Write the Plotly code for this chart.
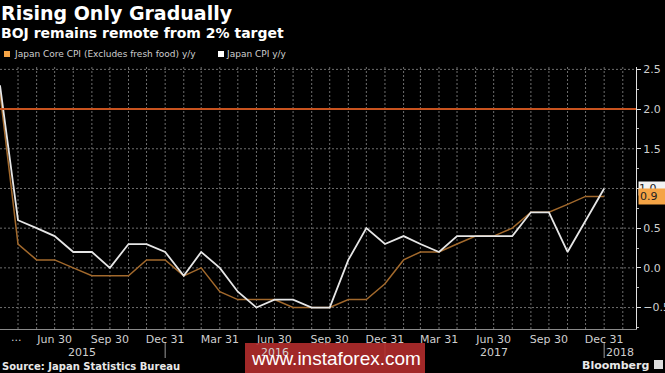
import plotly.graph_objects as go

# ---------------- data ----------------
months = [
    "2015-03-31", "2015-04-30", "2015-05-31", "2015-06-30", "2015-07-31", "2015-08-31",
    "2015-09-30", "2015-10-31", "2015-11-30", "2015-12-31",
    "2016-01-31", "2016-02-29", "2016-03-31", "2016-04-30", "2016-05-31", "2016-06-30",
    "2016-07-31", "2016-08-31", "2016-09-30", "2016-10-31", "2016-11-30", "2016-12-31",
    "2017-01-31", "2017-02-28", "2017-03-31", "2017-04-30", "2017-05-31", "2017-06-30",
    "2017-07-31", "2017-08-31", "2017-09-30", "2017-10-31", "2017-11-30", "2017-12-31",
]
core_cpi = [2.2, 0.3, 0.1, 0.1, 0.0, -0.1, -0.1, -0.1, 0.1, 0.1,
            -0.1, 0.0, -0.3, -0.4, -0.4, -0.4, -0.5, -0.5, -0.5, -0.4, -0.4, -0.2,
            0.1, 0.2, 0.2, 0.3, 0.4, 0.4, 0.5, 0.7, 0.7, 0.8, 0.9, 0.9]
cpi = [2.3, 0.6, 0.5, 0.4, 0.2, 0.2, 0.0, 0.3, 0.3, 0.2,
       -0.1, 0.2, 0.0, -0.3, -0.5, -0.4, -0.4, -0.5, -0.5, 0.1, 0.5, 0.3,
       0.4, 0.3, 0.2, 0.4, 0.4, 0.4, 0.4, 0.7, 0.7, 0.2, 0.6, 1.0]
target = 2.0

grid_months = months[1:] + ["2018-01-31"]
tick_dates = ["2015-06-30", "2015-09-30", "2015-12-31", "2016-03-31", "2016-06-30",
              "2016-09-30", "2016-12-31", "2017-03-31", "2017-06-30", "2017-09-30",
              "2017-12-31"]
tick_text = ["Jun 30", "Sep 30", "Dec 31", "Mar 31", "Jun 30", "Sep 30", "Dec 31",
             "Mar 31", "Jun 30", "Sep 30", "Dec 31"]
years = ["2015", "2016", "2017", "2018"]
year_pos = ["2015-08-14", "2016-07-01", "2017-07-01", "2018-01-27"]
year_breaks = ["2015-12-31", "2016-12-31", "2017-12-31"]
y_ticks = [-0.5, 0.0, 0.5, 1.0, 1.5, 2.0, 2.5]
x_range = ["2015-03-31", "2018-02-22"]

# ---------------- styling ----------------
W, H = 665, 373
PL, PR, PT, PB = 0, 636, 67, 329
FONT = "DejaVu Sans, Verdana, sans-serif"
WM_FONT = "Liberation Sans, Arial, sans-serif"
CORE_LINE = "#a2692c"
CORE_KEY = "#f5a445"
CPI_LINE = "#e6e6e6"
TARGET = "#c8531f"
GRID = "#6e6e6e"
GRID_DASH = "2px,2px"
TXT = "#cfcfcf"


def py(p):
    return (PB - p) / (PB - PT)


def pxp(p):
    return (p - PL) / (PR - PL)


fig = go.Figure()
fig.add_trace(go.Scatter(x=months, y=core_cpi, mode="lines",
                         line=dict(color=CORE_LINE, width=1.5), name="Japan Core CPI"))
fig.add_trace(go.Scatter(x=months, y=cpi, mode="lines",
                         line=dict(color=CPI_LINE, width=1.8), name="Japan CPI"))

shapes = []
# monthly vertical grid
for d in grid_months:
    shapes.append(dict(type="line", xref="x", x0=d, x1=d, yref="paper", y0=0, y1=1,
                       line=dict(color=GRID, width=1, dash=GRID_DASH), layer="between"))
# horizontal grid
for v in y_ticks:
    shapes.append(dict(type="line", xref="paper", x0=0, x1=1, yref="y", y0=v, y1=v,
                       line=dict(color=GRID, width=1, dash=GRID_DASH), layer="between"))
shapes.append(dict(type="line", xref="paper", x0=0, x1=1, yref="y", y0=target, y1=target,
                   line=dict(color=TARGET, width=2), layer="above"))
for d in year_breaks:
    shapes.append(dict(type="line", xref="x", x0=d, x1=d, yref="paper",
                       y0=py(343), y1=py(358), line=dict(color="#9a9a9a", width=1)))
# legend keys
shapes.append(dict(type="rect", xref="paper", yref="paper", x0=pxp(4), x1=pxp(10),
                   y0=py(57), y1=py(51), fillcolor=CORE_KEY, line=dict(width=0)))
shapes.append(dict(type="rect", xref="paper", yref="paper", x0=pxp(218), x1=pxp(224),
                   y0=py(57), y1=py(51), fillcolor="white", line=dict(width=0)))
# watermark box
shapes.append(dict(type="rect", xref="paper", yref="paper", x0=pxp(245), x1=pxp(425),
                   y0=py(380), y1=py(343), fillcolor="rgba(178,44,44,0.9)",
                   line=dict(width=0), layer="above"))
# Bloomberg icon
shapes.append(dict(type="rect", xref="paper", yref="paper", x0=pxp(654), x1=pxp(663),
                   y0=py(369), y1=py(360), fillcolor="#dddddd", line=dict(width=0)))

ann = []
ann.append(dict(text="<b>Rising Only Gradually</b>", xref="paper", yref="paper",
                x=pxp(-1), y=py(13), xanchor="left", yanchor="middle", showarrow=False,
                font=dict(family=FONT, size=19, color="white")))
ann.append(dict(text="<b>BOJ remains remote from 2% target</b>", xref="paper", yref="paper",
                x=pxp(-1), y=py(33), xanchor="left", yanchor="middle", showarrow=False,
                font=dict(family=FONT, size=14, color="white")))
ann.append(dict(text="Japan Core CPI (Excludes fresh food) y/y",
                xref="paper", yref="paper", x=pxp(12), y=py(54), xanchor="left",
                yanchor="middle", showarrow=False,
                font=dict(family=FONT, size=9, color=TXT)))
ann.append(dict(text="Japan CPI y/y",
                xref="paper", yref="paper", x=pxp(224), y=py(54), xanchor="left",
                yanchor="middle", showarrow=False,
                font=dict(family=FONT, size=9, color=TXT)))
ann.append(dict(text="...", xref="paper", yref="paper", x=pxp(16), y=py(337),
                xanchor="center", yanchor="middle", showarrow=False,
                font=dict(family=FONT, size=11, color=TXT)))
for yt, yp in zip(years, year_pos):
    ann.append(dict(text=yt, xref="x", yref="paper", x=yp, y=py(352),
                    xanchor="center", yanchor="middle", showarrow=False,
                    font=dict(family=FONT, size=11, color=TXT)))
ann.append(dict(text="www.instaforex.com", xref="paper", yref="paper", x=pxp(336),
                y=py(358), xanchor="center", yanchor="middle", showarrow=False,
                font=dict(family=WM_FONT, size=19, color="white")))
ann.append(dict(text="<b>Source: Japan Statistics Bureau</b>", xref="paper", yref="paper",
                x=pxp(0), y=py(366), xanchor="left", yanchor="middle", showarrow=False,
                font=dict(family=FONT, size=10, color="#e8e8e8")))
ann.append(dict(text="<b>Bloomberg</b>", xref="paper", yref="paper", x=pxp(651),
                y=py(365), xanchor="right", yanchor="middle", showarrow=False,
                font=dict(family=FONT, size=11, color="#e8e8e8")))
# last value tags
ann.append(dict(text=f"{cpi[-1]:.1f}", xref="paper", yref="y", x=1, y=cpi[-1],
                xanchor="left", yanchor="middle", xshift=2, showarrow=False,
                bgcolor="#f2f2f2", width=26, align="left", borderpad=0,
                font=dict(family=FONT, size=11, color="#222")))
ann.append(dict(text=f"{core_cpi[-1]:.1f}", xref="paper", yref="y", x=1, y=core_cpi[-1],
                xanchor="left", yanchor="middle", xshift=2, showarrow=False,
                bgcolor=CORE_KEY, width=26, align="left", borderpad=1,
                font=dict(family=FONT, size=11, color="#222")))

fig.update_layout(
    width=W, height=H,
    margin=dict(l=PL, r=W - PR, t=PT, b=H - PB, autoexpand=False),
    paper_bgcolor="black", plot_bgcolor="black",
    showlegend=False,
    shapes=shapes, annotations=ann,
    xaxis=dict(
        type="date", range=x_range,
        tickvals=tick_dates, ticktext=tick_text,
        tickfont=dict(family=FONT, size=11, color=TXT),
        showgrid=False, showline=True, linecolor="#8a8a8a", linewidth=1,
        ticks="", zeroline=False,
    ),
    yaxis=dict(
        side="right", range=[-0.77, 2.53], tickvals=y_ticks, tickformat=".1f",
        tickfont=dict(family=FONT, size=11, color=TXT),
        showgrid=False,
        showline=True, linecolor="#e0e0e0", linewidth=1,
        ticks="outside", ticklen=4, tickcolor="#e0e0e0", zeroline=False,
        minor=dict(dtick=0.25, ticks="outside", ticklen=2, tickcolor="#bbbbbb"),
    ),
)

fig.write_html(
    "out.html",
    config={"displayModeBar": False},
    post_script="document.body.style.margin='0';document.body.style.background='black';",
)
